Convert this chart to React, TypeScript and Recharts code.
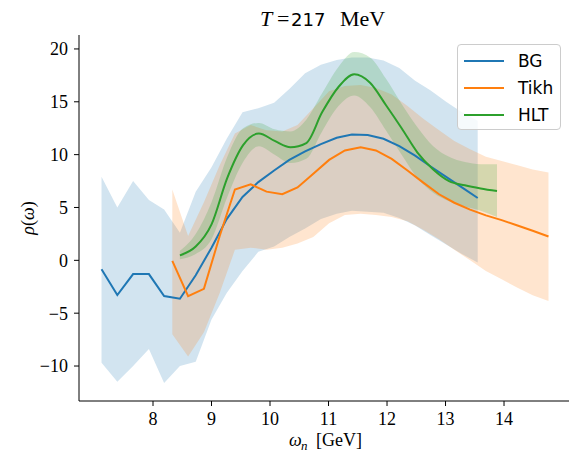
import { ComposedChart, Area, Line, XAxis, YAxis, Legend, Customized } from 'recharts';

// BG reconstruction
const bgX = [7.12, 7.39, 7.66, 7.93, 8.19, 8.46, 8.73, 9.0, 9.26, 9.53, 9.8, 10.07, 10.33, 10.6, 10.87, 11.14, 11.4, 11.67, 11.94, 12.21, 12.48, 12.74, 13.01, 13.28, 13.55];
const bgMean = [-0.85, -3.28, -1.3, -1.3, -3.38, -3.63, -1.42, 1.2, 3.9, 6.0, 7.4, 8.5, 9.5, 10.3, 11.0, 11.6, 11.9, 11.85, 11.5, 10.8, 9.9, 8.9, 7.9, 6.9, 5.9];
const bgLow = [-9.7, -11.5, -10.0, -8.4, -11.6, -10.0, -9.6, -5.6, -3.1, -1.0, 0.8, 1.3, 2.2, 3.0, 3.9, 4.4, 4.7, 4.6, 4.5, 4.0, 3.3, 2.4, 1.5, 0.6, -0.2];
const bgHigh = [7.9, 5.0, 7.5, 5.7, 4.8, 2.6, 6.5, 8.8, 11.5, 14.0, 14.4, 14.9, 16.2, 17.7, 18.5, 18.95, 19.2, 19.2, 18.9, 18.2, 17.0, 16.1, 15.0, 14.0, 13.2];

// Tikhonov
const tikhX = [8.33, 8.6, 8.87, 9.14, 9.4, 9.67, 9.94, 10.21, 10.47, 10.74, 11.01, 11.28, 11.55, 11.81, 12.08, 12.35, 12.62, 12.89, 13.15, 13.42, 13.69, 13.96, 14.23, 14.49, 14.76];
const tikhMean = [-0.05, -3.4, -2.7, 2.3, 6.7, 7.2, 6.5, 6.25, 6.9, 8.2, 9.5, 10.4, 10.7, 10.4, 9.6, 8.5, 7.35, 6.25, 5.45, 4.8, 4.25, 3.8, 3.3, 2.8, 2.25];
const tikhLow = [-7.0, -9.1, -6.8, -3.1, 1.0, 1.2, 1.0, 1.2, 1.6, 2.2, 3.5, 4.3, 4.4, 4.3, 4.1, 3.7, 2.9, 2.0, 1.0, 0.0, -1.0, -1.8, -2.6, -3.3, -3.85];
const tikhHigh = [6.7, 2.3, 5.5, 9.0, 12.0, 12.8, 12.3, 12.2, 12.8, 14.4, 16.0, 16.5, 16.6, 16.3, 15.7, 14.6, 13.4, 12.3, 11.3, 10.5, 9.8, 9.4, 9.0, 8.6, 8.3];

// HLT
const hltX = [8.46, 8.73, 9.0, 9.27, 9.54, 9.81, 10.08, 10.35, 10.62, 10.89, 11.17, 11.44, 11.71, 11.98, 12.25, 12.52, 12.79, 13.06, 13.33, 13.6, 13.88];
const hltMean = [0.47, 1.3, 3.4, 7.8, 10.9, 12.0, 11.3, 10.7, 11.1, 14.0, 16.4, 17.6, 16.8, 14.7, 12.5, 10.2, 8.6, 7.5, 7.1, 6.8, 6.55];
const hltLow = [0.1, 0.6, 2.0, 6.0, 9.3, 10.8, 10.0, 9.2, 9.6, 12.2, 14.6, 15.6, 14.5, 12.3, 10.0, 7.8, 6.4, 5.6, 5.1, 4.7, 4.1];
const hltHigh = [0.9, 2.5, 5.5, 9.8, 12.5, 13.0, 12.4, 12.2, 13.3, 15.8, 18.3, 19.7, 19.2, 17.2, 14.8, 12.6, 10.8, 9.8, 9.3, 9.1, 9.1];

const xTicks = [8, 9, 10, 11, 12, 13, 14];
const yTicks = [-10, -5, 0, 5, 10, 15, 20];

const legendItems = [
  { name: 'BG', color: '#1f77b4' },
  { name: 'Tikh', color: '#ff7f0e' },
  { name: 'HLT', color: '#2ca02c' },
];

const toLine = (xs: number[], ys: number[]) => xs.map((x, i) => ({ x, y: ys[i] }));
const toBand = (xs: number[], lo: number[], hi: number[]) => xs.map((x, i) => ({ x, band: [lo[i], hi[i]] }));

const serif = '"Liberation Serif", "DejaVu Serif", serif';
const sans = '"DejaVu Sans", sans-serif';

function Labels() {
  return (
    <g fill="#000">
      <text y={26} fontFamily={serif} fontSize={22}>
        <tspan x={260} fontStyle="italic">T</tspan>
        <tspan x={277}>=</tspan>
        <tspan x={291} fontFamily={sans} fontSize={18}>217</tspan>
        <tspan x={340}>MeV</tspan>
      </text>
      <text y={446} fontFamily={serif} fontSize={18}>
        <tspan x={289} fontStyle="italic">ω</tspan>
        <tspan x={301} fontStyle="italic" fontSize={13} dy={4}>n</tspan>
        <tspan x={316} dy={-4}>[GeV]</tspan>
      </text>
      <text x={34} y={218} textAnchor="middle" fontFamily={serif} fontSize={18} transform="rotate(-90 34 218)">
        <tspan fontStyle="italic">ρ</tspan>(<tspan fontStyle="italic">ω</tspan>)
      </text>
    </g>
  );
}

function LegendBox() {
  return (
    <div
      style={{
        width: 104,
        height: 86,
        border: '1px solid #cccccc',
        borderRadius: 4,
        background: 'rgba(255,255,255,0.8)',
        boxSizing: 'border-box',
        paddingTop: 3,
      }}
    >
      {legendItems.map((it) => (
        <div key={it.name} style={{ display: 'flex', alignItems: 'center', height: 26.7 }}>
          <div style={{ marginLeft: 6, width: 40, height: 2, background: it.color }} />
          <span style={{ marginLeft: 14, fontFamily: sans, fontSize: 17, color: '#000' }}>{it.name}</span>
        </div>
      ))}
    </div>
  );
}

export default function App() {
  return (
    <div style={{ position: 'fixed', left: 0, top: 0, width: 569, height: 454, overflow: 'hidden', background: '#fff' }}>
      <ComposedChart width={580} height={454} margin={{ top: 35, right: 8.4, bottom: 0, left: 0 }}>
        <XAxis
          xAxisId="top"
          orientation="top"
          type="number"
          dataKey="x"
          domain={[6.735, 15.155]}
          allowDataOverflow
          height={0}
          tick={false}
          tickLine={false}
          axisLine={{ stroke: '#000', strokeWidth: 1 }}
        />
        <XAxis
          type="number"
          dataKey="x"
          domain={[6.735, 15.155]}
          allowDataOverflow
          ticks={xTicks}
          height={53}
          tickSize={5}
          tickMargin={6}
          tick={{ fill: '#000', fontSize: 18, fontFamily: serif }}
          tickLine={{ stroke: '#000' }}
          axisLine={{ stroke: '#000', strokeWidth: 1 }}
        />
        <YAxis
          type="number"
          domain={[-13.31, 21.32]}
          allowDataOverflow
          ticks={yTicks}
          width={79}
          tickSize={5}
          tickMargin={6}
          tickFormatter={(v: number) => String(v).replace('-', '\u2212')}
          tick={{ fill: '#000', fontSize: 18, fontFamily: serif }}
          tickLine={{ stroke: '#000' }}
          axisLine={{ stroke: '#000', strokeWidth: 1 }}
        />
        <Area data={toBand(bgX, bgLow, bgHigh)} dataKey="band" type="linear" stroke="none" fill="#1f77b4" fillOpacity={0.2} isAnimationActive={false} />
        <Area data={toBand(tikhX, tikhLow, tikhHigh)} dataKey="band" type="linear" stroke="none" fill="#ff7f0e" fillOpacity={0.2} isAnimationActive={false} />
        <Area data={toBand(hltX, hltLow, hltHigh)} dataKey="band" type="monotoneX" stroke="none" fill="#2ca02c" fillOpacity={0.2} isAnimationActive={false} />
        <Line data={toLine(bgX, bgMean)} dataKey="y" type="linear" stroke="#1f77b4" strokeWidth={2} dot={false} isAnimationActive={false} />
        <Line data={toLine(tikhX, tikhMean)} dataKey="y" type="linear" stroke="#ff7f0e" strokeWidth={2} dot={false} isAnimationActive={false} />
        <Line data={toLine(hltX, hltMean)} dataKey="y" type="monotoneX" stroke="#2ca02c" strokeWidth={2} dot={false} isAnimationActive={false} />
        <Legend
          layout="horizontal"
          verticalAlign="middle"
          align="center"
          content={() => <LegendBox />}
          wrapperStyle={{ position: 'absolute', left: 457, top: 44, width: 104, height: 86 }}
        />
        <Customized component={Labels} />
      </ComposedChart>
    </div>
  );
}
